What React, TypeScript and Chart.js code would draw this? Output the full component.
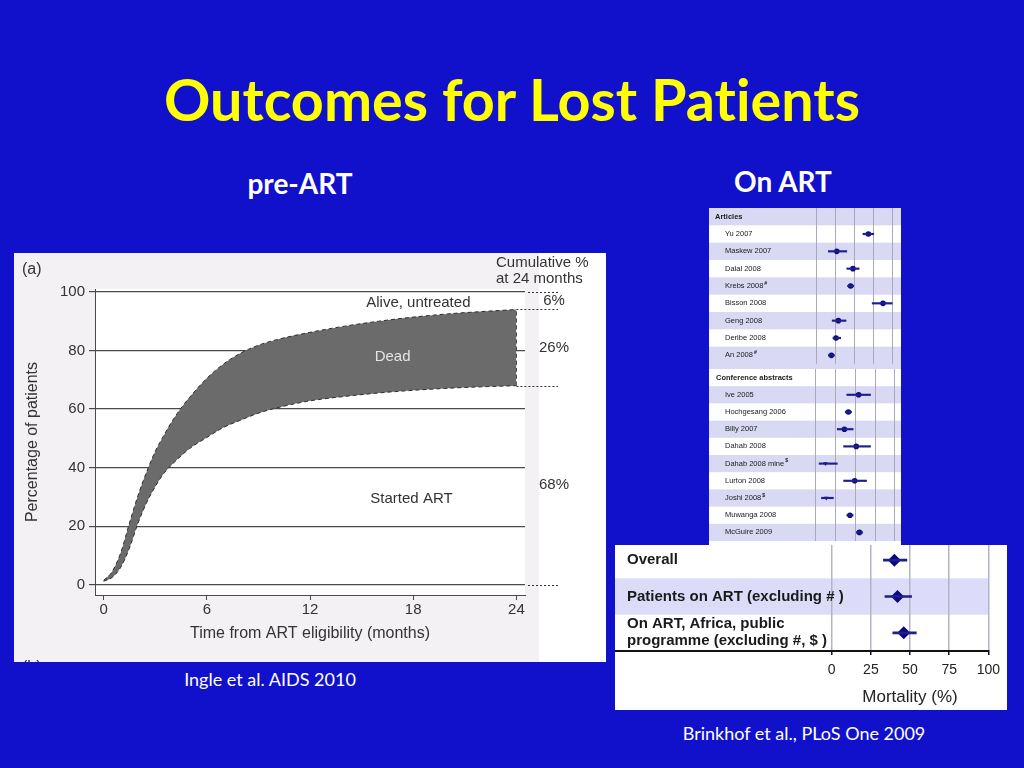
import React, { useEffect, useRef } from "react";
import { Chart, registerables } from "chart.js";

Chart.register(...registerables);

// ---------- pre-ART panel (Ingle et al.) ----------
const months = [0, 0.5, 1, 1.5, 2, 2.5, 3, 3.5, 4, 4.5, 5, 6, 7, 8, 9, 10, 12, 14, 16, 18, 20, 22, 24];
const startedArtPct = [1.2, 2.5, 6, 12.5, 21, 28, 33.5, 38, 41.2, 44, 46.5, 50.3, 53.8, 56.3, 58.6, 60.3, 62.8, 64.3, 65.5, 66.4, 67.1, 67.6, 68];
const startedOrDeadPct = [1.5, 4.5, 11, 21, 30.5, 38.5, 45.5, 51, 56, 60.3, 64, 70.5, 75.5, 79.2, 81.8, 83.6, 86.2, 88.3, 90, 91.4, 92.5, 93.3, 94];
const outcomeNames = ["Alive, untreated", "Dead", "Started ART"];
const outcomeShares = [6, 26, 68];
const monthTicks = [0, 6, 12, 18, 24];
const percentTicks = [0, 20, 40, 60, 80, 100];

// ---------- On ART panels (Brinkhof et al.) ----------
const articleStudies = ["Yu 2007", "Maskew 2007", "Dalal 2008", "Krebs 2008#", "Bisson 2008", "Geng 2008", "Deribe 2008", "An 2008#"];
const articleMortality = [68, 27, 48, 45, 87, 29, 26, 20];
const articleLower = [61, 16, 40, 41, 73, 21, 22, 16];
const articleUpper = [75, 40, 56, 49, 99, 39, 32, 24];

const abstractStudies = ["Ive 2005", "Hochgesang 2006", "Billy 2007", "Dahab 2008", "Dahab 2008 mine$", "Lurton 2008", "Joshi 2008$", "Muwanga 2008", "McGuire 2009"];
const abstractMortality = [54, 41, 36, 51, 12, 49, 13, 43, 55];
const abstractLower = [39, 37, 27, 35, 4, 35, 7, 39, 51];
const abstractUpper = [69, 45, 47, 69, 27, 64, 22, 47, 59];

const summaryGroups = [["Overall"], ["Patients on ART (excluding # )"], ["On ART, Africa, public", "programme (excluding #, $ )"]];
const summaryMortality = [40, 42, 46];
const summaryLower = [33, 34, 39];
const summaryUpper = [48, 51, 54];
const mortalityTicks = [0, 25, 50, 75, 100];

const SANS = "'Liberation Sans', Arial, Helvetica, sans-serif";
const INK = "#333333";

function PreArtChart() {
  const ref = useRef<HTMLCanvasElement>(null);
  useEffect(() => {
    const canvas = ref.current;
    if (!canvas) return;
    const lower = months.map((m, i) => ({ x: m, y: startedArtPct[i] }));
    const upper = months.map((m, i) => ({ x: m, y: startedOrDeadPct[i] }));
    const lastM = months[months.length - 1];
    const lastLow = startedArtPct[startedArtPct.length - 1];
    const lastUp = startedOrDeadPct[startedOrDeadPct.length - 1];

    const overlay = {
      id: "preArtOverlay",
      beforeDraw(chart: any) {
        const { ctx, chartArea: a } = chart;
        ctx.save();
        ctx.fillStyle = "#ffffff";
        ctx.fillRect(a.left, a.top, a.right - a.left, a.bottom - a.top);
        ctx.restore();
      },
      afterDraw(chart: any) {
        const { ctx, chartArea: a, scales } = chart;
        const x = scales.x;
        const y = scales.y;
        ctx.save();
        ctx.strokeStyle = INK;
        ctx.lineWidth = 1;
        ctx.setLineDash([2, 2]);
        const end = a.right + 33;
        const x24 = x.getPixelForValue(lastM);
        const bounds = [
          { v: 100, from: a.right + 3 },
          { v: lastUp, from: x24 },
          { v: lastLow, from: x24 },
          { v: 0, from: a.right + 3 },
        ];
        bounds.forEach((b) => {
          const py = Math.round(y.getPixelForValue(b.v)) + 0.5;
          ctx.beginPath();
          ctx.moveTo(b.from, py);
          ctx.lineTo(end, py);
          ctx.stroke();
        });
        ctx.setLineDash([]);
        ctx.fillStyle = INK;
        ctx.textBaseline = "middle";
        ctx.textAlign = "center";
        ctx.font = `15px ${SANS}`;
        const cuts = [100, lastUp, lastLow, 0];
        outcomeShares.forEach((s, i) => {
          const mid = (cuts[i] + cuts[i + 1]) / 2;
          ctx.fillText(`${s}%`, a.right + 29, y.getPixelForValue(mid));
        });
        ctx.textAlign = "left";
        ctx.fillText("Cumulative %", a.right - 29, 10);
        ctx.fillText("at 24 months", a.right - 29, 26);
        ctx.font = `16px ${SANS}`;
        ctx.fillText("(a)", 8, 17);
        ctx.fillText("(b)", 8, chart.height + 6);
        const anchors = [
          { x: 18.3, y: 96.4, c: INK },
          { x: 16.8, y: 77.7, c: "#e4e4e4" },
          { x: 17.9, y: 29.4, c: INK },
        ];
        ctx.font = `15px ${SANS}`;
        ctx.textAlign = "center";
        outcomeNames.forEach((n, i) => {
          ctx.fillStyle = anchors[i].c;
          ctx.fillText(n, x.getPixelForValue(anchors[i].x), y.getPixelForValue(anchors[i].y));
        });
        ctx.restore();
      },
    };

    const edge = {
      borderColor: "#2e2e2e",
      borderWidth: 1,
      borderDash: [4, 3],
      pointRadius: 0,
      cubicInterpolationMode: "monotone" as const,
    };

    const chart = new Chart(canvas, {
      type: "line",
      data: {
        datasets: [
          { ...edge, label: "Started ART", data: lower, fill: false },
          { ...edge, label: "Dead", data: upper, fill: "-1", backgroundColor: "#6b6b6b" },
          {
            ...edge,
            label: "edge24",
            data: [
              { x: lastM, y: lastLow },
              { x: lastM, y: lastUp },
            ],
            fill: false,
          },
        ],
      },
      options: {
        animation: false,
        responsive: true,
        maintainAspectRatio: false,
        events: [],
        layout: { autoPadding: false, padding: { left: 0, top: 36, right: 81, bottom: 0 } },
        plugins: { legend: { display: false }, tooltip: { enabled: false } },
        scales: {
          x: {
            type: "linear",
            min: -0.5,
            max: 24.5,
            afterBuildTicks: (s: any) => {
              s.ticks = monthTicks.map((v) => ({ value: v }));
            },
            afterFit: (s: any) => {
              s.height = 67;
            },
            grid: { drawOnChartArea: false, drawTicks: true, tickLength: 5, color: "#4a4a4a" },
            border: { display: true, color: "#4a4a4a", width: 1 },
            ticks: { font: { family: SANS, size: 15 }, color: INK, padding: 1, maxRotation: 0, autoSkip: false },
            title: {
              display: true,
              text: "Time from ART eligibility (months)",
              font: { family: SANS, size: 16 },
              color: INK,
              padding: { top: 0, bottom: 19 },
            },
          },
          y: {
            type: "linear",
            min: -3.5,
            max: 101,
            afterBuildTicks: (s: any) => {
              s.ticks = percentTicks.map((v) => ({ value: v }));
            },
            afterFit: (s: any) => {
              s.width = 81;
            },
            grid: { color: "#4a4a4a", lineWidth: 1.2, drawTicks: true, tickLength: 6 },
            border: { display: true, color: "#4a4a4a", width: 1 },
            ticks: { font: { family: SANS, size: 15 }, color: INK, padding: 4 },
            title: {
              display: true,
              text: "Percentage of patients",
              font: { family: SANS, size: 16 },
              color: INK,
              padding: { top: 9, bottom: 0 },
            },
          },
        },
      },
      plugins: [overlay],
    });
    return () => chart.destroy();
  }, []);
  return <canvas ref={ref} />;
}

type ForestConfig = {
  rows: string[][];
  headerRow: boolean;
  est: number[];
  lo: number[];
  hi: number[];
  xMin: number;
  xMax: number;
  stripeEven: boolean;
  stripe: string;
  fontPx: number;
  bold: boolean;
  indent: number;
  headerIndent: number;
  lineGap: number;
  gridColor: string;
  gridWidth: number;
  diamond: boolean;
  pointR: number;
  barPx: number;
  axis: boolean;
  axisHeight: number;
  padRight: number;
  superscripts: boolean;
  axisTitle?: string;
  axisTitleY?: number;
};

function ForestPanel({ cfg }: { cfg: ForestConfig }) {
  const ref = useRef<HTMLCanvasElement>(null);
  useEffect(() => {
    const canvas = ref.current;
    if (!canvas) return;
    const n = cfg.rows.length;
    const keys = cfg.rows.map((r, i) => `${i}:${r.join(" ")}`);
    const lead: any[] = cfg.headerRow ? [null] : [];
    const bars = [...lead, ...cfg.lo.map((l, i) => [l, cfg.hi[i]])];
    const pts = [...lead, ...cfg.est];
    const styles = cfg.rows.map((r) =>
      r[0].endsWith("$") && cfg.superscripts ? "triangle" : cfg.diamond ? "rectRot" : "circle"
    );
    const rot = styles.map((s) => (s === "triangle" ? 180 : 0));
    const radii = styles.map((s) => (s === "triangle" ? cfg.pointR * 0.9 : cfg.pointR));

    const rowsPlugin = {
      id: "forestRows",
      beforeDraw(chart: any) {
        const { ctx, chartArea: a, scales } = chart;
        const y = scales.y;
        const h = (a.bottom - a.top) / n;
        ctx.save();
        ctx.fillStyle = "#ffffff";
        ctx.fillRect(0, 0, chart.width, chart.height);
        ctx.fillStyle = cfg.stripe;
        for (let i = 0; i < n; i++) {
          if ((i % 2 === 0) === cfg.stripeEven) {
            const c = y.getPixelForValue(i);
            ctx.fillRect(a.left, c - h / 2, a.right - a.left, h);
          }
        }
        ctx.restore();
      },
      afterDraw(chart: any) {
        const { ctx, chartArea: a, scales } = chart;
        const y = scales.y;
        const x = scales.x;
        ctx.save();
        ctx.fillStyle = "#1a1a1a";
        ctx.textBaseline = "middle";
        ctx.textAlign = "left";
        cfg.rows.forEach((lines, i) => {
          const isHeader = cfg.headerRow && i === 0;
          const weight = isHeader || cfg.bold ? "bold " : "";
          const font = `${weight}${cfg.fontPx}px ${SANS}`;
          const cx = a.left + (isHeader ? cfg.headerIndent : cfg.indent);
          const cy = y.getPixelForValue(i);
          lines.forEach((line, k) => {
            const ly = cy + (k - (lines.length - 1) / 2) * cfg.lineGap;
            let text = line;
            let sup = "";
            if (cfg.superscripts && /[#$]$/.test(text)) {
              sup = text.slice(-1);
              text = text.slice(0, -1);
            }
            ctx.font = font;
            ctx.fillText(text, cx, ly);
            if (sup) {
              const w = ctx.measureText(text).width;
              ctx.font = `bold ${cfg.fontPx * 0.7}px ${SANS}`;
              ctx.fillText(sup, cx + w + 1, ly - cfg.fontPx * 0.35);
            }
          });
        });
        if (cfg.axisTitle) {
          ctx.font = `17px ${SANS}`;
          ctx.fillStyle = "#222222";
          ctx.textAlign = "center";
          ctx.fillText(cfg.axisTitle, x.getPixelForValue(50), cfg.axisTitleY || 0);
        }
        ctx.restore();
      },
    };

    const chart = new Chart(canvas, {
      type: "bar",
      data: {
        labels: keys,
        datasets: [
          {
            type: "bar",
            label: "CI",
            data: bars as any,
            backgroundColor: "#1e1e8e",
            barThickness: cfg.barPx,
            indexAxis: "y",
          } as any,
          {
            type: "line",
            label: "Mortality",
            data: pts,
            showLine: false,
            indexAxis: "y",
            pointStyle: styles as any,
            pointRadius: radii,
            pointRotation: rot,
            pointBackgroundColor: "#0a0a7e",
            pointBorderColor: "#0a0a7e",
            pointBorderWidth: 0,
          } as any,
        ],
      },
      options: {
        indexAxis: "y",
        animation: false,
        responsive: true,
        maintainAspectRatio: false,
        events: [],
        layout: { autoPadding: false, padding: { left: 0, top: 0, right: cfg.padRight, bottom: 0 } },
        plugins: { legend: { display: false }, tooltip: { enabled: false } },
        scales: {
          x: {
            type: "linear",
            min: cfg.xMin,
            max: cfg.xMax,
            afterBuildTicks: (s: any) => {
              s.ticks = mortalityTicks.map((v) => ({ value: v }));
            },
            afterFit: (s: any) => {
              s.height = cfg.axisHeight;
            },
            grid: {
              color: cfg.gridColor,
              lineWidth: cfg.gridWidth,
              drawTicks: cfg.axis,
              tickLength: 4,
              tickColor: "#111111",
              tickWidth: 1.5,
            },
            border: { display: cfg.axis, color: "#111111", width: 2 },
            ticks: {
              display: cfg.axis,
              font: { family: SANS, size: 14 },
              color: "#222222",
              padding: 7,
              maxRotation: 0,
              autoSkip: false,
            },
          },
          y: { type: "category", display: false, offset: true },
        },
      },
      plugins: [rowsPlugin],
    });
    return () => chart.destroy();
  }, [cfg]);
  return <canvas ref={ref} />;
}

const articlesCfg: ForestConfig = {
  rows: [["Articles"], ...articleStudies.map((s) => [s])],
  headerRow: true,
  est: articleMortality,
  lo: articleLower,
  hi: articleUpper,
  xMin: -139,
  xMax: 110.4,
  stripeEven: true,
  stripe: "#d9d9f4",
  fontPx: 7.5,
  bold: false,
  indent: 16,
  headerIndent: 6,
  lineGap: 9,
  gridColor: "#a9a9bb",
  gridWidth: 1,
  diamond: false,
  pointR: 2.8,
  barPx: 1.5,
  axis: false,
  axisHeight: 0,
  padRight: 0,
  superscripts: true,
};

const abstractsCfg: ForestConfig = {
  rows: [["Conference abstracts"], ...abstractStudies.map((s) => [s])],
  headerRow: true,
  est: abstractMortality,
  lo: abstractLower,
  hi: abstractUpper,
  xMin: -135.4,
  xMax: 107.6,
  stripeEven: false,
  stripe: "#d9d9f4",
  fontPx: 7.5,
  bold: false,
  indent: 16,
  headerIndent: 7,
  lineGap: 9,
  gridColor: "#a9a9bb",
  gridWidth: 1,
  diamond: false,
  pointR: 2.8,
  barPx: 1.5,
  axis: false,
  axisHeight: 0,
  padRight: 0,
  superscripts: true,
};

const summaryCfg: ForestConfig = {
  rows: summaryGroups,
  headerRow: false,
  est: summaryMortality,
  lo: summaryLower,
  hi: summaryUpper,
  xMin: -138.4,
  xMax: 100,
  stripeEven: false,
  stripe: "#dcdcf8",
  fontPx: 15,
  bold: true,
  indent: 12,
  headerIndent: 12,
  lineGap: 17,
  gridColor: "#b4b4c8",
  gridWidth: 1.5,
  diamond: true,
  pointR: 6.5,
  barPx: 2,
  axis: true,
  axisHeight: 59,
  padRight: 16,
  superscripts: false,
  axisTitle: "Mortality (%)",
  axisTitleY: 155,
};

const textBase: React.CSSProperties = {
  position: "absolute",
  fontFamily: "Lato, 'Open Sans', sans-serif",
  color: "#ffffff",
  whiteSpace: "nowrap",
  textAlign: "center",
  fontVariantLigatures: "none",
};

export default function App() {
  return (
    <div
      style={{
        position: "fixed",
        left: 0,
        top: 0,
        width: 1024,
        height: 768,
        overflow: "hidden",
        background: "#1111cc",
      }}
    >
      <div
        style={{
          ...textBase,
          left: 0,
          width: 1024,
          top: 64,
          fontSize: 57.5,
          lineHeight: "69px",
          fontWeight: 700,
          color: "#ffff00",
        }}
      >
        Outcomes for Lost Patients
      </div>
      <div style={{ ...textBase, left: 200, width: 200, top: 167, fontSize: 28, lineHeight: "33px", fontWeight: 700 }}>
        pre-ART
      </div>
      <div style={{ ...textBase, left: 683, width: 200, top: 165, fontSize: 28, lineHeight: "33px", fontWeight: 700 }}>
        On ART
      </div>
      <div style={{ ...textBase, left: 120, width: 300, top: 669, fontSize: 18, lineHeight: "21px" }}>
        Ingle et al. AIDS 2010
      </div>
      <div style={{ ...textBase, left: 654, width: 300, top: 723, fontSize: 18, lineHeight: "21px" }}>
        Brinkhof et al., PLoS One 2009
      </div>

      <div
        style={{
          position: "absolute",
          left: 14,
          top: 253,
          width: 592,
          height: 409,
          background: "linear-gradient(to right, #f3f1f3 0px, #f3f1f3 525px, #ffffff 525px)",
        }}
      >
        <PreArtChart />
      </div>

      <div style={{ position: "absolute", left: 709, top: 208, width: 192, height: 156, background: "#fff" }}>
        <ForestPanel cfg={articlesCfg} />
      </div>

      <div style={{ position: "absolute", left: 709, top: 364, width: 192, height: 181, background: "#fff" }}>
        <div style={{ position: "absolute", left: 0, top: 0, width: 192, height: 5, background: "#d9d9f4" }} />
        <div style={{ position: "absolute", left: 0, top: 5, width: 192, height: 172 }}>
          <ForestPanel cfg={abstractsCfg} />
        </div>
      </div>

      <div
        style={{
          position: "absolute",
          left: 615,
          top: 545,
          width: 392,
          height: 165,
          background: "#fff",
          overflow: "hidden",
        }}
      >
        <div style={{ position: "absolute", left: 0, top: -3, width: 392, height: 168 }}>
          <ForestPanel cfg={summaryCfg} />
        </div>
      </div>
    </div>
  );
}
